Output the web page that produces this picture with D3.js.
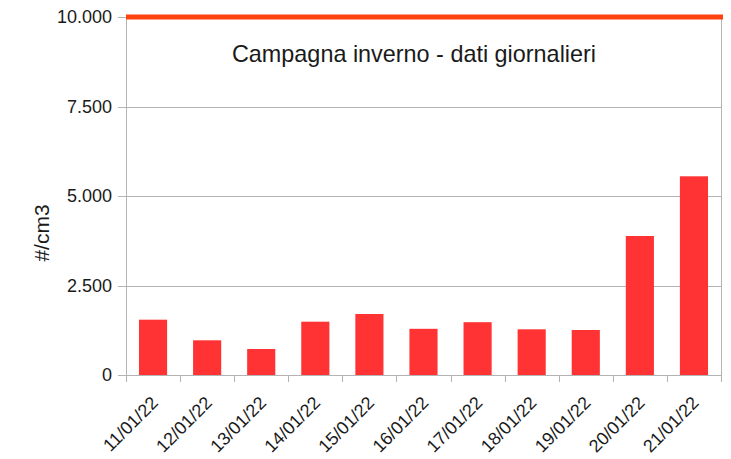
<!DOCTYPE html>
<html><head><meta charset="utf-8">
<script src="https://cdn.jsdelivr.net/npm/d3@7"></script>
<style>body{margin:0;background:#fff;} text{font-family:"Liberation Sans",Arial,sans-serif;fill:#1a1a1a;}</style>
</head><body><svg id="c" width="731" height="459"></svg>
<script>
const categories = ["11/01/22","12/01/22","13/01/22","14/01/22","15/01/22","16/01/22","17/01/22","18/01/22","19/01/22","20/01/22","21/01/22"];
const values = [1545, 969, 726, 1489, 1704, 1290, 1475, 1276, 1257, 3883, 5550];
const limitValue = 10000;
const yTicks = [0, 2500, 5000, 7500, 10000];
const title = "Campagna inverno - dati giornalieri";
const yLabel = "#/cm3";

const svg = d3.select("#c");
const L = 126, R = 721, T = 17, B = 375;
const x = d3.scaleBand().domain(categories).range([L, R]).paddingInner(0.48).paddingOuter(0.24);
const xb = d3.scaleBand().domain(categories).range([L, R]);
const y = d3.scaleLinear().domain([0, 10000]).range([B, T]);
const loc = d3.formatLocale({decimal: ",", thousands: ".", grouping: [3], currency: ["", ""]});
const fmt = loc.format(",d");
const grid = "#b3b3b3";

// gridlines
svg.append("g").selectAll("line").data(yTicks).join("line")
  .attr("x1", L - 8).attr("x2", R).attr("y1", d => Math.round(y(d)) + 0.5).attr("y2", d => Math.round(y(d)) + 0.5)
  .attr("stroke", grid).attr("stroke-width", 1);
// y tick labels
svg.append("g").selectAll("text").data(yTicks).join("text")
  .attr("x", L - 14).attr("y", d => y(d)).attr("dy", "0.35em").attr("text-anchor", "end")
  .attr("font-size", 18).text(d => fmt(d));
// x boundary ticks
const bounds = categories.map(c => xb(c)).concat([R]);
svg.append("g").selectAll("line").data(bounds).join("line")
  .attr("x1", d => Math.round(d) + 0.5).attr("x2", d => Math.round(d) + 0.5)
  .attr("y1", B).attr("y2", B + 7).attr("stroke", grid);
// left and right axis lines
svg.append("line").attr("x1", L + 0.5).attr("x2", L + 0.5).attr("y1", T).attr("y2", B + 7).attr("stroke", grid);
svg.append("line").attr("x1", R + 0.5).attr("x2", R + 0.5).attr("y1", T).attr("y2", B + 7).attr("stroke", grid);

// bars
svg.append("g").selectAll("rect").data(values).join("rect")
  .attr("x", (d, i) => x(categories[i])).attr("width", x.bandwidth())
  .attr("y", d => y(d)).attr("height", d => B - y(d))
  .attr("fill", "#ff3333");

// limit line
svg.append("line").attr("x1", L).attr("x2", R + 2).attr("y1", y(limitValue)).attr("y2", y(limitValue))
  .attr("stroke", "#ff420e").attr("stroke-width", 5);

// x labels
svg.append("g").selectAll("text").data(categories).join("text")
  .attr("transform", d => `translate(${xb(d) + xb.bandwidth() / 2 + 6},${B + 29}) rotate(-45)`)
  .attr("text-anchor", "end").attr("font-size", 18).text(d => d);

// title
svg.append("text").attr("x", 414).attr("y", 62).attr("text-anchor", "middle").attr("font-size", 23.4).text(title);
// y label
svg.append("text").attr("transform", "translate(49,233) rotate(-90)").attr("text-anchor", "middle")
  .attr("font-size", 21).text(yLabel);
</script></body></html>
